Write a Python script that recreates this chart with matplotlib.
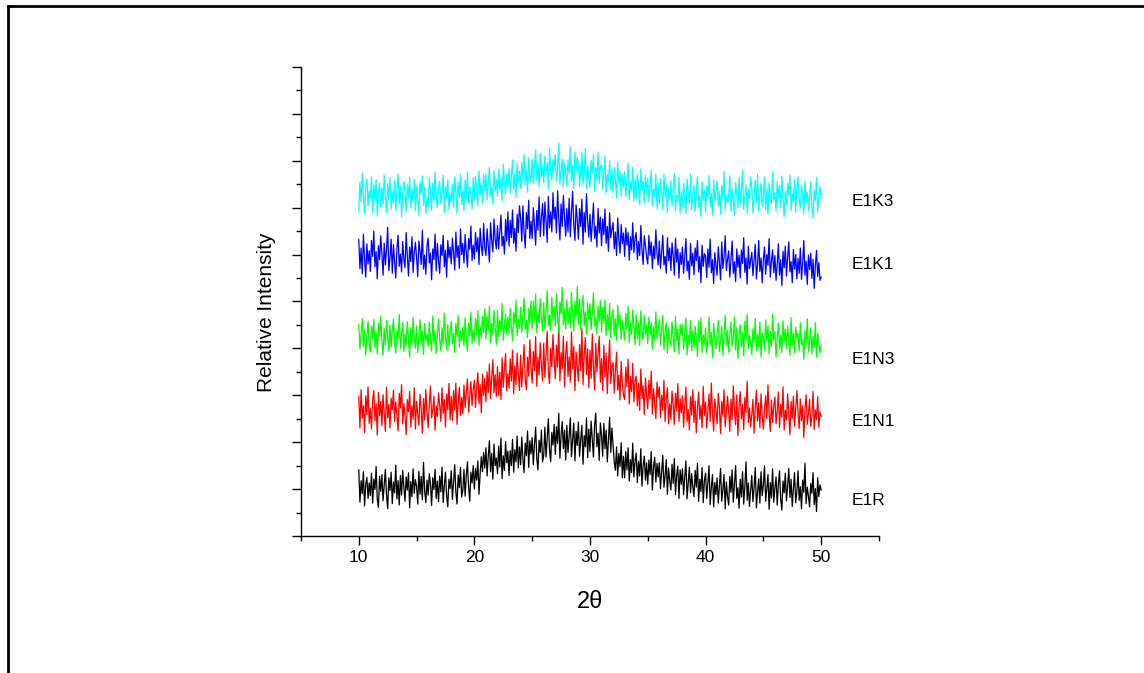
import numpy as np
import matplotlib
matplotlib.use("Agg")
import matplotlib.pyplot as plt
from matplotlib.lines import Line2D
from matplotlib.ticker import MultipleLocator

plt.rcParams['font.family'] = ['Liberation Sans', 'DejaVu Sans']

labels = ["E1R", "E1N1", "E1N3", "E1K1", "E1K3"]
colors = ["#000000", "#ff0000", "#00ff00", "#0000ff", "#00ffff"]
offsets = [0, 160, 320, 490, 620]   # vertical stacking (counts)
theta_start, theta_end = 10.0, 50.0  # scan range, 0.1 deg steps

# intensities (counts), one row per degree of 2-theta
e1r = [141, 72, 118, 90, 137, 64, 109, 125, 80, 113,
       86, 134, 70, 121, 99, 148, 78, 61, 127, 95,
       131, 75, 110, 142, 88, 58, 124, 97, 136, 69,
       115, 92, 151, 79, 118, 66, 129, 87, 140, 104,
       74, 126, 98, 135, 60, 116, 84, 143, 91, 120,
       106, 68, 138, 89, 127, 77, 157, 96, 71, 119,
       87, 133, 111, 65, 124, 99, 142, 80, 117, 73,
       128, 94, 147, 71, 108, 136, 85, 62, 121, 101,
       139, 78, 116, 152, 93, 68, 130, 103, 146, 83,
       97, 142, 85, 129, 158, 104, 74, 136, 113, 150,
       100, 144, 119, 160, 89, 133, 169, 137, 178, 145,
       188, 128, 170, 203, 137, 176, 121, 196, 150, 166,
       133, 192, 147, 209, 122, 171, 140, 201, 156, 181,
       129, 182, 150, 206, 136, 184, 158, 213, 145, 190,
       152, 211, 165, 135, 198, 171, 224, 146, 203, 175,
       210, 152, 196, 232, 165, 141, 204, 178, 226, 158,
       172, 232, 168, 208, 250, 185, 158, 221, 194, 238,
       174, 233, 197, 262, 166, 215, 244, 186, 226, 162,
       236, 178, 213, 252, 169, 206, 241, 160, 223, 193,
       243, 170, 206, 236, 153, 214, 190, 252, 167, 228,
       180, 245, 208, 168, 236, 262, 190, 219, 161, 241,
       215, 170, 240, 186, 226, 158, 207, 253, 178, 230,
       195, 158, 140, 190, 128, 176, 148, 199, 124, 170,
       124, 180, 141, 188, 117, 163, 135, 198, 126, 160,
       177, 114, 159, 128, 186, 106, 150, 170, 119, 156,
       110, 162, 131, 180, 98, 147, 168, 115, 155, 126,
       156, 101, 138, 172, 104, 128, 163, 89, 145, 118,
       98, 153, 112, 165, 88, 130, 149, 80, 141, 110,
       143, 88, 126, 160, 79, 114, 147, 92, 133, 104,
       84, 140, 104, 155, 74, 121, 95, 146, 71, 118,
       134, 80, 113, 150, 67, 104, 131, 62, 114, 88,
       124, 70, 107, 144, 74, 98, 131, 58, 115, 84,
       66, 127, 93, 141, 72, 110, 150, 80, 103, 59,
       121, 83, 137, 68, 106, 158, 76, 113, 63, 98,
       129, 73, 104, 146, 60, 94, 122, 70, 137, 86,
       108, 150, 74, 100, 131, 57, 114, 81, 143, 72,
       102, 126, 66, 110, 139, 78, 55, 117, 92, 134,
       75, 107, 144, 82, 121, 63, 101, 135, 71, 94,
       139, 76, 105, 58, 119, 93, 155, 69, 104, 85,
       62, 112, 91, 135, 67, 101, 52, 124, 84, 109,
       98]

e1n1 = [137, 70, 152, 91, 118, 60, 139, 99, 158, 80,
        112, 68, 130, 150, 86, 122, 55, 146, 97, 127,
        75, 141, 102, 63, 157, 92, 121, 70, 134, 109,
        151, 84, 126, 98, 64, 144, 113, 163, 79, 122,
        95, 56, 131, 105, 148, 72, 118, 89, 156, 68,
        127, 100, 76, 142, 111, 59, 133, 88, 152, 104,
        71, 120, 160, 92, 108, 138, 66, 117, 95, 145,
        119, 84, 156, 101, 131, 72, 143, 109, 165, 88,
        138, 86, 150, 108, 166, 78, 123, 157, 97, 135,
        101, 162, 114, 146, 175, 104, 137, 169, 118, 153,
        172, 114, 160, 188, 122, 163, 103, 185, 140, 176,
        126, 190, 146, 207, 133, 178, 216, 145, 184, 137,
        201, 140, 189, 131, 220, 157, 196, 229, 149, 186,
        155, 218, 170, 236, 143, 203, 163, 230, 186, 150,
        226, 158, 204, 248, 172, 152, 221, 181, 258, 196,
        166, 233, 193, 265, 159, 221, 183, 252, 206, 170,
        251, 178, 228, 276, 190, 165, 240, 201, 270, 219,
        175, 247, 200, 290, 170, 231, 196, 266, 158, 228,
        255, 180, 222, 168, 275, 196, 244, 150, 232, 203,
        170, 248, 192, 282, 163, 226, 263, 184, 239, 156,
        236, 176, 271, 201, 152, 251, 190, 228, 266, 168,
        218, 150, 247, 178, 230, 143, 207, 258, 165, 201,
        210, 145, 192, 232, 151, 183, 130, 212, 166, 140,
        131, 200, 158, 217, 121, 180, 148, 208, 126, 172,
        181, 117, 166, 108, 196, 133, 160, 99, 177, 141,
        111, 172, 132, 191, 100, 154, 124, 90, 168, 136,
        158, 93, 140, 108, 172, 84, 132, 156, 79, 122,
        88, 149, 121, 78, 144, 106, 165, 84, 133, 102,
        139, 72, 119, 158, 83, 109, 66, 137, 98, 152,
        82, 128, 60, 112, 147, 89, 118, 71, 159, 97,
        126, 70, 106, 143, 84, 166, 100, 64, 132, 108,
        79, 144, 113, 58, 127, 95, 152, 73, 107, 138,
        105, 63, 132, 88, 160, 110, 77, 141, 54, 119,
        148, 90, 121, 67, 135, 103, 170, 82, 113, 72,
        99, 131, 59, 114, 151, 85, 124, 71, 143, 96,
        68, 110, 139, 90, 162, 101, 63, 130, 82, 117,
        136, 80, 105, 147, 71, 121, 93, 158, 66, 108,
        87, 143, 99, 56, 127, 91, 138, 74, 112, 150,
        104, 69, 132, 86, 118, 50, 110, 141, 78, 100,
        131, 74, 96, 148, 67, 109, 88, 137, 72, 104,
        95]

e1n3 = [131, 78, 110, 144, 84, 120, 66, 104, 138, 90,
        72, 127, 98, 142, 81, 115, 68, 134, 106, 148,
        95, 65, 122, 87, 140, 104, 74, 130, 83, 116,
        143, 93, 70, 118, 101, 152, 79, 109, 134, 73,
        112, 85, 137, 98, 61, 124, 91, 146, 103, 80,
        128, 71, 105, 141, 89, 117, 67, 133, 96, 110,
        84, 136, 101, 74, 149, 90, 119, 69, 108, 143,
        99, 75, 124, 88, 155, 103, 77, 130, 83, 114,
        138, 90, 112, 71, 133, 104, 150, 82, 117, 96,
        126, 85, 145, 102, 74, 134, 107, 157, 91, 120,
        95, 144, 110, 160, 86, 126, 103, 149, 114, 165,
        99, 149, 118, 170, 92, 133, 109, 161, 125, 88,
        160, 105, 139, 116, 176, 97, 130, 153, 111, 147,
        111, 166, 127, 96, 157, 132, 182, 107, 143, 122,
        168, 114, 151, 187, 120, 140, 103, 165, 134, 181,
        122, 180, 139, 196, 113, 157, 134, 186, 148, 117,
        177, 123, 160, 203, 128, 151, 118, 189, 140, 170,
        127, 195, 146, 114, 178, 153, 210, 130, 165, 121,
        184, 132, 166, 124, 200, 150, 117, 181, 146, 212,
        131, 185, 120, 168, 193, 128, 158, 110, 177, 143,
        175, 120, 156, 198, 127, 146, 111, 171, 136, 182,
        115, 168, 133, 183, 108, 152, 120, 176, 102, 149,
        162, 107, 144, 97, 172, 128, 150, 100, 141, 119,
        98, 155, 119, 170, 92, 135, 110, 162, 127, 88,
        152, 100, 135, 86, 160, 118, 99, 150, 110, 131,
        90, 147, 108, 136, 78, 126, 97, 158, 101, 121,
        141, 87, 119, 150, 77, 113, 135, 70, 124, 95,
        85, 137, 102, 73, 148, 96, 121, 68, 131, 109,
        132, 78, 111, 145, 66, 108, 89, 139, 75, 118,
        80, 127, 104, 62, 138, 93, 145, 71, 109, 88,
        124, 70, 103, 147, 86, 114, 60, 133, 100, 79,
        109, 140, 73, 98, 127, 65, 112, 151, 86, 118,
        72, 110, 136, 85, 102, 147, 76, 125, 58, 106,
        130, 84, 114, 65, 138, 97, 152, 79, 108, 93,
        67, 122, 94, 144, 75, 110, 83, 136, 61, 113,
        104, 76, 141, 95, 127, 68, 116, 84, 153, 98,
        116, 62, 101, 134, 80, 108, 71, 139, 93, 121,
        79, 128, 96, 65, 146, 86, 112, 70, 125, 101,
        111, 74, 135, 87, 99, 57, 118, 92, 143, 72,
        95, 124, 68, 106, 82, 135, 61, 112, 90, 70,
        87]

e1k1 = [142, 80, 124, 69, 153, 101, 62, 133, 90, 118,
        74, 140, 106, 160, 84, 116, 58, 129, 99, 150,
        112, 66, 134, 88, 121, 168, 76, 102, 143, 70,
        131, 96, 60, 123, 151, 85, 111, 73, 138, 100,
        82, 157, 107, 64, 126, 95, 148, 72, 115, 136,
        104, 63, 139, 118, 89, 162, 79, 109, 68, 129,
        145, 92, 113, 56, 122, 99, 154, 75, 134, 97,
        70, 131, 108, 151, 84, 119, 62, 140, 103, 126,
        90, 145, 114, 77, 158, 104, 129, 81, 165, 110,
        134, 92, 153, 116, 83, 144, 121, 171, 97, 130,
        101, 157, 116, 146, 89, 166, 128, 108, 176, 124,
        108, 165, 131, 94, 178, 139, 116, 186, 142, 122,
        172, 122, 157, 194, 128, 149, 111, 185, 138, 201,
        128, 183, 146, 205, 134, 166, 117, 196, 157, 214,
        188, 138, 214, 157, 124, 200, 165, 226, 144, 181,
        145, 210, 173, 130, 204, 162, 233, 148, 189, 219,
        150, 222, 182, 136, 234, 167, 201, 158, 242, 186,
        211, 156, 246, 187, 141, 218, 170, 236, 190, 149,
        208, 158, 230, 148, 202, 245, 174, 140, 216, 184,
        143, 208, 170, 228, 132, 200, 158, 240, 182, 147,
        196, 138, 176, 220, 145, 170, 126, 208, 156, 190,
        129, 186, 152, 207, 134, 170, 117, 199, 146, 164,
        178, 122, 158, 108, 188, 140, 113, 174, 133, 156,
        106, 167, 130, 157, 98, 148, 120, 178, 114, 145,
        157, 99, 138, 108, 172, 120, 89, 150, 129, 104,
        90, 151, 108, 137, 80, 128, 101, 163, 112, 88,
        139, 80, 115, 151, 88, 106, 70, 146, 97, 124,
        76, 135, 108, 66, 145, 94, 122, 60, 114, 89,
        126, 70, 107, 144, 75, 96, 57, 134, 86, 113,
        67, 124, 97, 140, 73, 106, 50, 130, 85, 112,
        107, 61, 122, 83, 143, 71, 99, 48, 114, 88,
        66, 127, 94, 56, 137, 80, 106, 150, 76, 100,
        118, 62, 99, 139, 70, 95, 52, 122, 83, 109,
        60, 119, 91, 146, 72, 103, 47, 128, 80, 97,
        115, 65, 98, 132, 58, 89, 140, 74, 103, 50,
        100, 126, 68, 110, 87, 144, 62, 96, 120, 71,
        108, 55, 91, 133, 66, 99, 44, 117, 82, 128,
        64, 104, 137, 73, 95, 50, 121, 79, 110, 58,
        102, 70, 124, 57, 91, 140, 66, 96, 46, 109,
        78, 113, 59, 100, 38, 87, 119, 63, 93, 55,
        62]

e1k3 = [72, 135, 92, 154, 110, 66, 121, 141, 84, 116,
        98, 146, 70, 129, 95, 139, 62, 111, 133, 82,
        122, 88, 150, 106, 69, 131, 97, 144, 77, 113,
        91, 138, 74, 117, 152, 87, 125, 60, 108, 136,
        114, 71, 130, 100, 145, 80, 120, 93, 141, 73,
        126, 97, 64, 135, 109, 148, 85, 123, 68, 101,
        82, 143, 114, 74, 132, 96, 157, 105, 80, 121,
        136, 88, 110, 149, 70, 125, 99, 139, 76, 107,
        93, 130, 80, 146, 111, 67, 134, 102, 151, 86,
        118, 74, 139, 98, 155, 88, 124, 109, 77, 144,
        97, 146, 121, 84, 158, 108, 133, 90, 151, 117,
        150, 96, 133, 166, 104, 124, 88, 159, 115, 140,
        104, 161, 118, 143, 95, 172, 130, 109, 152, 124,
        163, 110, 148, 182, 119, 151, 102, 175, 131, 158,
        121, 177, 139, 193, 128, 162, 113, 186, 150, 134,
        183, 131, 167, 203, 138, 175, 124, 196, 148, 168,
        133, 190, 150, 176, 120, 207, 158, 139, 183, 164,
        193, 137, 166, 218, 131, 160, 184, 124, 177, 148,
        128, 182, 152, 209, 136, 170, 121, 199, 158, 187,
        176, 125, 162, 197, 131, 151, 206, 120, 169, 141,
        124, 181, 153, 193, 114, 165, 139, 199, 131, 168,
        172, 120, 155, 190, 111, 151, 135, 180, 118, 163,
        112, 166, 140, 101, 176, 132, 156, 105, 150, 124,
        157, 104, 140, 175, 98, 134, 118, 166, 94, 142,
        98, 152, 130, 86, 163, 116, 137, 91, 149, 110,
        143, 92, 126, 160, 84, 120, 102, 151, 78, 132,
        88, 142, 112, 76, 152, 104, 130, 70, 122, 98,
        137, 83, 118, 153, 74, 106, 92, 145, 70, 114,
        82, 132, 100, 67, 141, 112, 88, 151, 75, 108,
        128, 72, 112, 146, 81, 105, 61, 135, 95, 117,
        71, 126, 101, 148, 82, 110, 64, 139, 94, 113,
        137, 84, 115, 66, 128, 99, 157, 75, 108, 91,
        105, 148, 72, 119, 96, 63, 134, 108, 80, 144,
        87, 114, 160, 76, 104, 129, 69, 117, 99, 146,
        123, 68, 105, 139, 90, 151, 73, 110, 131, 83,
        101, 145, 76, 118, 66, 133, 107, 88, 155, 96,
        112, 72, 136, 100, 127, 80, 147, 103, 61, 115,
        85, 132, 107, 150, 74, 109, 93, 140, 70, 119,
        146, 99, 79, 127, 104, 67, 137, 91, 113, 74,
        108, 136, 83, 58, 118, 95, 145, 71, 102, 125,
        99]

series = [e1r, e1n1, e1n3, e1k1, e1k3]

label_x = 52.6
label_y = [76, 244, 377, 578, 714]

fig = plt.figure(figsize=(11.44, 6.73), dpi=100)
ax = fig.add_axes([0.2631, 0.2036, 0.5052, 0.6969])

for vals, off, col in zip(series, offsets, colors):
    v = np.asarray(vals, dtype=float)
    x = np.linspace(theta_start, theta_end, len(v))
    ax.plot(x, v + off, color=col, lw=0.9)

for lab, ly in zip(labels, label_y):
    ax.text(label_x, ly, lab, fontsize=12.5, ha='left', va='center')

ax.set_xlim(5, 55)
ax.set_ylim(0, 1000)
ax.xaxis.set_major_locator(MultipleLocator(10))
ax.xaxis.set_minor_locator(MultipleLocator(5))
ax.yaxis.set_major_locator(MultipleLocator(100))
ax.yaxis.set_minor_locator(MultipleLocator(50))
ax.set_xticks([10, 20, 30, 40, 50])
ax.set_xticklabels(["10", "20", "30", "40", "50"])
ax.tick_params(axis='both', which='major', direction='out', length=6.5, width=1.0, labelsize=12.5)
ax.tick_params(axis='both', which='minor', direction='out', length=3.3, width=1.0)
ax.tick_params(axis='y', which='both', labelleft=False)
for s in ['top', 'right']:
    ax.spines[s].set_visible(False)
for s in ['left', 'bottom']:
    ax.spines[s].set_linewidth(1.0)

ax.set_xlabel("2θ", fontsize=17)
ax.xaxis.set_label_coords(0.5, -0.1407)
ax.xaxis.label.set_va('center')
ax.set_ylabel("Relative Intensity", fontsize=15)
ax.yaxis.set_label_coords(-0.0593, 0.478)
ax.yaxis.label.set_va('center')

# page frame lines
fig.add_artist(Line2D([7.5 / 1144, 1.0], [1 - 5.5 / 673, 1 - 5.5 / 673],
                      color='black', lw=2.0, transform=fig.transFigure))
fig.add_artist(Line2D([7.5 / 1144, 7.5 / 1144], [0.0, 1 - 5.5 / 673],
                      color='black', lw=2.0, transform=fig.transFigure))

fig.savefig("out.png", dpi=100)
